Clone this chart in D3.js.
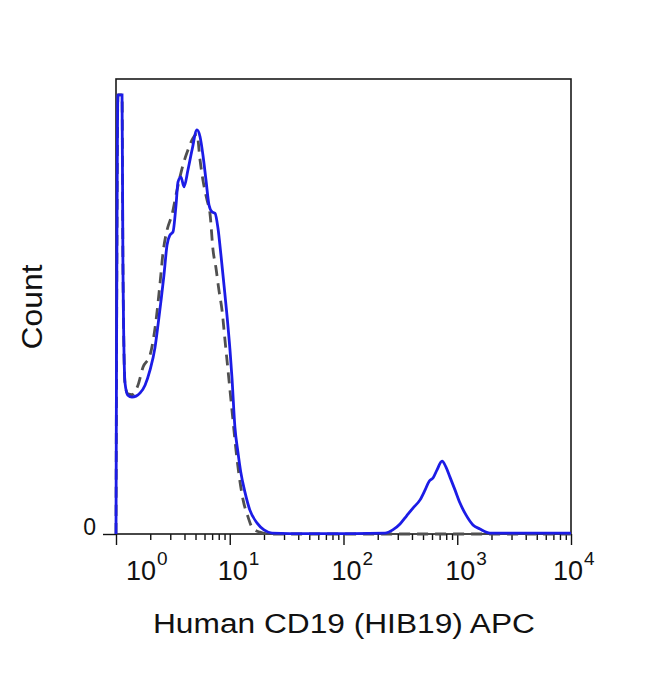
<!DOCTYPE html>
<meta charset="utf-8">
<script src="https://d3js.org/d3.v7.min.js"></script>
<style>
    body { margin: 0; background: #fff; }
    text { font-family: "Liberation Sans", Arial, sans-serif; fill: #111; }
</style>
<div id="my_dataviz"></div>
<script>
    // histogram: fluorescence value, count (% of max scale)
    var stainedX = [1.0, 1.04, 1.13, 1.15, 1.20, 1.27, 1.38, 1.50, 1.63, 1.80, 1.99, 2.20, 2.34, 2.49, 2.64, 2.81,
        2.98, 3.17, 3.37, 3.51, 3.72, 3.96, 4.29, 4.66, 5.15, 5.48, 5.81, 6.18, 6.57, 6.98, 7.42, 7.87, 8.37,
        8.90, 9.45, 10.05, 10.45, 11.1, 11.8, 12.5, 13.6, 15.0, 17.4, 20.0, 23.5, 33.8, 120, 232, 271, 314,
        359, 408, 471, 522, 567, 612, 664, 735, 796, 863, 955, 1057, 1193, 1375, 1585, 1940, 10000];
    var stainedY = [0, 96.5, 96.5, 60.2, 33.2, 30.5, 30.1, 30.3, 31.0, 32.7, 36.0, 40.9, 45.9, 51.4, 56.9, 63.5,
        65.7, 66.4, 72.3, 77.4, 78.5, 76.3, 80.0, 84.4, 88.8, 87.3, 83.3, 77.8, 72.3, 70.8, 70.5, 67.3, 61.3,
        54.7, 48.1, 40.4, 34.5, 23.5, 18.0, 13.6, 9.2, 5.3, 2.4, 0.9, 0.2, 0.1, 0.1, 0.2, 0.9, 2.2,
        4.0, 5.7, 7.5, 9.7, 11.6, 12.3, 14.1, 16.0, 14.7, 12.5, 9.7, 6.8, 4.2, 2.0, 1.1, 0.2, 0.2];

    var isotypeX = [1.0, 1.04, 1.13, 1.15, 1.20, 1.27, 1.38, 1.56, 1.73, 1.99, 2.25, 2.44, 2.59, 2.81, 3.10,
        3.44, 3.88, 4.29, 4.75, 5.15, 5.48, 5.81, 6.31, 6.70, 7.13, 7.56, 8.03, 8.55, 9.08, 9.65, 10.45, 11.6,
        13.1, 14.5, 15.7, 18.4, 22.6, 10000];
    var isotypeY = [0, 96.5, 96.5, 60, 33, 30.8, 30.6, 32.7, 36.7, 39.3, 47.0, 55.2, 61.8, 66.8, 70.1,
        75.6, 81.1, 84.4, 87.0, 87.9, 82.2, 77.8, 73.4, 70.5, 62.4, 58.5, 53.6, 49.2, 42.6, 36.0, 27.3, 16.3,
        7.5, 3.7, 1.5, 0.4, 0, 0];

    var decades = [1, 10, 100, 1000, 10000];
    var decadeLabels = ["0", "1", "2", "3", "4"];
    var yTicks = [0];
    var yTickLabels = ["0"];

    var margin = { top: 79, right: 79, bottom: 157, left: 116 },
        width = 650 - margin.left - margin.right,
        height = 691 - margin.top - margin.bottom;

    var svg = d3.select("#my_dataviz")
        .append("svg")
        .attr("width", 650)
        .attr("height", 691)
        .append("g")
        .attr("transform", "translate(" + margin.left + "," + margin.top + ")");

    var x = d3.scaleLog().domain([1, 10000]).range([0, width]);
    var y = d3.scaleLinear().domain([0, 100]).range([height, 0]);

    // minor ticks 2..9 of every decade
    var minors = [];
    decades.slice(0, -1).forEach(function (d) {
        for (var k = 2; k < 10; k++) minors.push(d * k);
    });

    svg.append("g")
        .attr("transform", "translate(0," + height + ")")
        .call(d3.axisBottom(x).tickValues(minors).tickSize(6).tickFormat(""));
    svg.append("g")
        .attr("transform", "translate(0," + height + ")")
        .call(d3.axisBottom(x).tickValues(decades).tickSize(11).tickFormat(""));
    svg.append("g")
        .call(d3.axisLeft(y).tickValues(yTicks).tickSize(13).tickFormat(""));

    svg.selectAll(".domain").remove();
    svg.selectAll(".tick line").attr("stroke", "#111").attr("stroke-width", 1.4);

    // frame
    svg.append("rect")
        .attr("x", 0).attr("y", 0)
        .attr("width", width).attr("height", height)
        .attr("fill", "none")
        .attr("stroke", "#1a1a1a")
        .attr("stroke-width", 1.6);

    // decade labels 10^n, the two ends nudged inside
    var labels = svg.selectAll(".declabel")
        .data(decades)
        .enter()
        .append("text")
        .attr("class", "declabel")
        .attr("x", function (d, i) {
            var p = x(d) - 12;
            if (i === 0) p = x(d) + 10;
            if (i === decades.length - 1) p = x(d) - 18;
            return p;
        })
        .attr("y", height + 46)
        .style("font-size", "27px");
    labels.append("tspan").text("10");
    labels.append("tspan")
        .attr("dy", -15)
        .attr("dx", 1)
        .style("font-size", "19px")
        .text(function (d, i) { return decadeLabels[i]; });

    svg.selectAll(".ylabel")
        .data(yTicks)
        .enter()
        .append("text")
        .attr("x", -20)
        .attr("y", function (d) { return y(d) + 1; })
        .attr("text-anchor", "end")
        .style("font-size", "23px")
        .text(function (d, i) { return yTickLabels[i]; });

    var line = d3.line()
        .x(function (d) { return x(d[0]); })
        .y(function (d) { return y(d[1]); })
        .curve(d3.curveMonotoneX);

    svg.append("path")
        .datum(d3.zip(isotypeX, isotypeY))
        .attr("d", line)
        .attr("fill", "none")
        .attr("stroke", "#505050")
        .attr("stroke-width", 2.8)
        .attr("stroke-dasharray", "11,7");

    svg.append("path")
        .datum(d3.zip(stainedX, stainedY))
        .attr("d", line)
        .attr("fill", "none")
        .attr("stroke", "#1c1ce6")
        .attr("stroke-width", 2.8);

    // axis titles
    svg.append("text")
        .attr("x", 344 - margin.left)
        .attr("y", 633 - margin.top)
        .attr("text-anchor", "middle")
        .attr("textLength", 382)
        .attr("lengthAdjust", "spacingAndGlyphs")
        .style("font-size", "27px")
        .text("Human CD19 (HIB19) APC");

    svg.append("text")
        .attr("transform", "translate(" + (42 - margin.left) + "," + (307 - margin.top) + ")rotate(-90)")
        .attr("text-anchor", "middle")
        .attr("textLength", 85)
        .attr("lengthAdjust", "spacingAndGlyphs")
        .style("font-size", "30px")
        .text("Count");
</script>
